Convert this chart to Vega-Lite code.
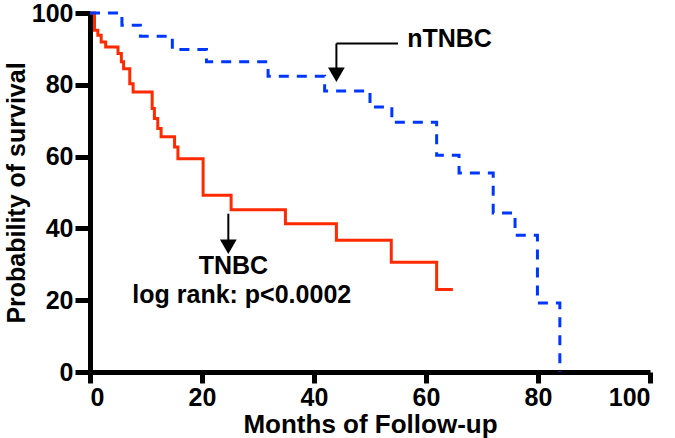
{
  "$schema": "https://vega.github.io/schema/vega-lite/v6.json",
  "autosize": "none",
  "width": 560,
  "height": 359,
  "padding": {"left": 90, "top": 13, "right": 25, "bottom": 66},
  "background": "white",
  "config": {
    "view": {"stroke": null},
    "font": "Liberation Sans",
    "axis": {
      "domainColor": "black",
      "domainWidth": 5,
      "tickColor": "black",
      "tickWidth": 5,
      "grid": false,
      "labelFont": "Liberation Sans",
      "labelFontWeight": "bold",
      "labelFontSize": 25,
      "labelColor": "black",
      "titleFont": "Liberation Sans",
      "titleFontWeight": "bold",
      "titleColor": "black"
    }
  },
  "datasets": {
    "curves": [
      {"group": "TNBC", "month": 0, "surv": 100},
      {"group": "TNBC", "month": 0.8, "surv": 95.2},
      {"group": "TNBC", "month": 1.4, "surv": 93.8},
      {"group": "TNBC", "month": 2.0, "surv": 91.9},
      {"group": "TNBC", "month": 2.8, "surv": 90.5},
      {"group": "TNBC", "month": 5.0, "surv": 88.7},
      {"group": "TNBC", "month": 5.6, "surv": 86.4},
      {"group": "TNBC", "month": 6.0, "surv": 84.5},
      {"group": "TNBC", "month": 7.1, "surv": 80.3},
      {"group": "TNBC", "month": 7.7, "surv": 78.0},
      {"group": "TNBC", "month": 11.1, "surv": 73.4},
      {"group": "TNBC", "month": 11.5, "surv": 70.6},
      {"group": "TNBC", "month": 12.1, "surv": 67.8},
      {"group": "TNBC", "month": 12.7, "surv": 65.5},
      {"group": "TNBC", "month": 15.1, "surv": 62.7},
      {"group": "TNBC", "month": 15.7, "surv": 59.4},
      {"group": "TNBC", "month": 20.2, "surv": 49.2},
      {"group": "TNBC", "month": 25.2, "surv": 45.2},
      {"group": "TNBC", "month": 34.9, "surv": 41.3},
      {"group": "TNBC", "month": 44.0, "surv": 36.7},
      {"group": "TNBC", "month": 53.8, "surv": 30.6},
      {"group": "TNBC", "month": 61.9, "surv": 23.0},
      {"group": "TNBC", "month": 64.8, "surv": 23.0},
      {"group": "nTNBC", "month": 0, "surv": 100},
      {"group": "nTNBC", "month": 5.7, "surv": 96.6},
      {"group": "nTNBC", "month": 9.0, "surv": 93.5},
      {"group": "nTNBC", "month": 14.7, "surv": 89.8},
      {"group": "nTNBC", "month": 20.8, "surv": 86.4},
      {"group": "nTNBC", "month": 31.8, "surv": 82.4},
      {"group": "nTNBC", "month": 41.9, "surv": 78.3},
      {"group": "nTNBC", "month": 50.0, "surv": 73.8},
      {"group": "nTNBC", "month": 53.9, "surv": 69.6},
      {"group": "nTNBC", "month": 61.9, "surv": 60.4},
      {"group": "nTNBC", "month": 65.9, "surv": 55.4},
      {"group": "nTNBC", "month": 72.0, "surv": 44.3},
      {"group": "nTNBC", "month": 75.9, "surv": 38.1},
      {"group": "nTNBC", "month": 79.9, "surv": 19.2},
      {"group": "nTNBC", "month": 83.9, "surv": 0}
    ],
    "segments": [
      {"x": 44.0, "y": 91.5, "x2": 44.0, "y2": 84.0},
      {"x": 44.0, "y": 91.5, "x2": 55.0, "y2": 91.5},
      {"x": 24.7, "y": 44.1, "x2": 24.7, "y2": 36.5}
    ],
    "heads": [
      {"x": 44.0, "y": 82.8},
      {"x": 24.7, "y": 34.9}
    ],
    "labels": [
      {"x": 64.2, "y": 90.5, "text": "nTNBC"},
      {"x": 25.6, "y": 27.2, "text": "TNBC"},
      {"x": 27.1, "y": 19.1, "text": "log rank: p<0.0002"}
    ]
  },
  "layer": [
    {
      "data": {"name": "curves"},
      "mark": {"type": "line", "interpolate": "step-after", "strokeWidth": 3, "clip": false},
      "encoding": {
        "x": {
          "field": "month", "type": "quantitative",
          "scale": {"domain": [0, 100], "nice": false, "zero": true},
          "axis": {"values": [0, 20, 40, 60, 80, 100], "tickSize": 11, "labelPadding": 2,
                   "title": "Months of Follow-up", "titleFontSize": 26, "titlePadding": 1}
        },
        "y": {
          "field": "surv", "type": "quantitative",
          "scale": {"domain": [0, 100], "nice": false},
          "axis": {"values": [0, 20, 40, 60, 80, 100], "tickSize": 15, "labelPadding": 2,
                   "title": "Probability of survival", "titleFontSize": 25, "titlePadding": 2}
        },
        "color": {
          "field": "group", "type": "nominal",
          "scale": {"domain": ["TNBC", "nTNBC"], "range": ["#ff2a00", "#0037ff"]},
          "legend": null
        },
        "strokeDash": {
          "field": "group", "type": "nominal",
          "scale": {"domain": ["TNBC", "nTNBC"], "range": [[1, 0], [10, 8]]},
          "legend": null
        }
      }
    },
    {
      "data": {"name": "segments"},
      "mark": {"type": "rule", "color": "black", "strokeWidth": 2},
      "encoding": {
        "x": {"field": "x", "type": "quantitative"},
        "y": {"field": "y", "type": "quantitative"},
        "x2": {"field": "x2"},
        "y2": {"field": "y2"}
      }
    },
    {
      "data": {"name": "heads"},
      "mark": {"type": "point", "shape": "triangle-down", "filled": true, "color": "black", "size": 280, "opacity": 1},
      "encoding": {
        "x": {"field": "x", "type": "quantitative"},
        "y": {"field": "y", "type": "quantitative"}
      }
    },
    {
      "data": {"name": "labels"},
      "mark": {"type": "text", "fontSize": 25, "fontWeight": "bold", "font": "Liberation Sans", "color": "black", "baseline": "alphabetic", "align": "center"},
      "encoding": {
        "x": {"field": "x", "type": "quantitative"},
        "y": {"field": "y", "type": "quantitative"},
        "text": {"field": "text"}
      }
    }
  ]
}
